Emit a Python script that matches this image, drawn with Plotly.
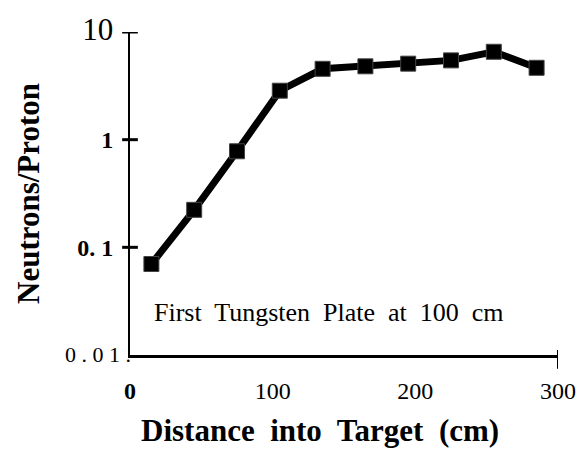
import plotly.graph_objects as go

distance_cm = [15, 45, 75, 105, 135, 165, 195, 225, 255, 285]
neutrons_per_proton = [0.07, 0.223, 0.78, 2.85, 4.55, 4.8, 5.08, 5.45, 6.55, 4.65]

x_tickvals = [0, 100, 200, 300]
x_ticktext = ["<b>0</b>", "100", "200", "300"]
y_tickvals = [0.1, 1, 10]
y_ticktext = ["<b>0. 1</b>", "<b>1</b>", "<span style='font-size:31px'>10</span>"]
y_min_label = "0 . 0 1 ."
y_marked_ticks = [0.1, 1, 10]
x_marked_ticks = [300]

FONT = "Liberation Serif"
CLEAR = "rgba(0,0,0,0)"
PLOT_W, PLOT_H = 436, 330

fig = go.Figure()
fig.add_trace(go.Scatter(
    x=distance_cm, y=neutrons_per_proton, mode="lines+markers",
    line=dict(color="black", width=7),
    marker=dict(symbol="square", size=15, color="black", line=dict(color="#444", width=1)),
    showlegend=False, hoverinfo="skip", cliponaxis=False))

# crossing tick marks on the axes (placed at the tick values)
for v in y_marked_ticks:
    fig.add_shape(type="line", xref="paper", yref="y", x0=-8 / PLOT_W, x1=8 / PLOT_W,
                  y0=v, y1=v, line=dict(color="black", width=3), layer="above")
for v in x_marked_ticks:
    fig.add_shape(type="line", xref="x", yref="paper", x0=v, x1=v,
                  y0=5 / PLOT_H, y1=-14 / PLOT_H, line=dict(color="black", width=2), layer="above")

fig.update_layout(
    width=588, height=449,
    margin=dict(l=130, r=22, t=25, b=94),
    paper_bgcolor="white", plot_bgcolor="white",
    font=dict(family=FONT, color="black"),
    xaxis=dict(range=[0, 300], showgrid=False, zeroline=False,
               tickvals=x_tickvals, ticktext=x_ticktext,
               ticks="outside", ticklen=12, tickcolor=CLEAR,
               showline=True, linecolor="black", linewidth=3,
               tickfont=dict(size=24, family=FONT)),
    yaxis=dict(type="log", range=[-2, 1], showgrid=False, zeroline=False,
               tickvals=y_tickvals, ticktext=y_ticktext,
               ticks="outside", ticklen=10, tickcolor=CLEAR,
               showline=True, linecolor="black", linewidth=2,
               tickfont=dict(size=24, family=FONT),
               title=dict(text="<b>Neutrons/Proton</b>", font=dict(size=31, family=FONT), standoff=28)),
    annotations=[
        dict(text=y_min_label, xref="paper", yref="paper", x=0, y=0,
             xanchor="right", yanchor="middle", xshift=3, yshift=1, showarrow=False,
             font=dict(size=22, family=FONT)),
        dict(text="First  Tungsten  Plate  at  100  cm", xref="paper", yref="paper",
             x=0.466, y=0.082, showarrow=False, font=dict(size=26, family=FONT)),
        dict(text="<b>Distance  into  Target  (cm)</b>", xref="paper", yref="paper",
             x=0.443, y=-0.235, yanchor="middle", showarrow=False,
             font=dict(size=31, family=FONT)),
    ],
)

fig.write_html("out.html")
